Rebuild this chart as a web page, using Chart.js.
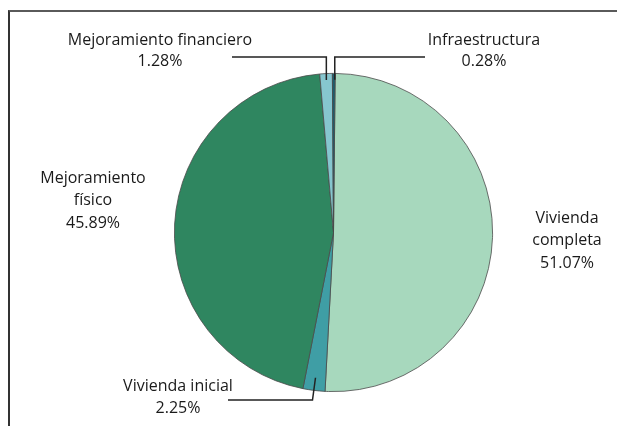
<!DOCTYPE html>
<html>
  <head>
    <meta charset="utf-8" />
    <title>Distribución por programa</title>
    <script src="https://cdn.jsdelivr.net/npm/chart.js@4.4.1/dist/chart.umd.min.js"></script>
    <style>
      body { margin: 0; background: #fff; }
      #wrap { position: relative; width: 617px; height: 426px; overflow: hidden; }
      #frame {
        position: absolute; left: 8px; top: 10px; width: 640px; height: 440px;
        border-top: 2px solid #5a5a5a; border-left: 2px solid #333;
      }
      canvas { position: absolute; left: 0; top: 0; }
    </style>
  </head>
  <body>
    <div id="wrap">
      <div id="frame"></div>
      <canvas id="myChart" width="617" height="426"></canvas>
    </div>
    <script>
      const labels = [
        "Vivienda completa",
        "Vivienda inicial",
        "Mejoramiento físico",
        "Mejoramiento financiero",
        "Infraestructura",
      ];
      const values = [51.07, 2.25, 45.89, 1.28, 0.28];
      const colors = ["#a7d8bd", "#3f9ea5", "#2f8660", "#86c6cf", "#1b5e6e"];

      // label text lines per slice, the last line gets the percentage
      const labelLines = [
        ["Vivienda", "completa"],
        ["Vivienda inicial"],
        ["Mejoramiento", "físico"],
        ["Mejoramiento financiero"],
        ["Infraestructura"],
      ];

      const fmt = (v) => v.toFixed(2) + "%";

      const labelPlugin = {
        id: "pieLabels",
        afterDraw(chart) {
          const ctx = chart.ctx;
          const arcs = chart.getDatasetMeta(0).data;
          ctx.save();
          ctx.font = '500 16px "Open Sans"';
          ctx.fillStyle = "#1a1a1a";
          ctx.textAlign = "center";
          ctx.textBaseline = "middle";

          const drawBlock = (i, cx, top, gap) => {
            const lines = labelLines[i].concat([fmt(values[i])]);
            lines.forEach((t, k) => ctx.fillText(t, cx, top + k * gap));
          };
          drawBlock(0, 567, 218, 22.5);
          drawBlock(1, 178, 386, 22.5);
          drawBlock(2, 93, 178, 22.5);
          drawBlock(3, 160, 40, 21.5);
          drawBlock(4, 484, 40, 21.5);

          // leader lines
          ctx.strokeStyle = "#222";
          ctx.lineWidth = 1.5;
          const at = (arc, f) => {
            const mid = (arc.startAngle + arc.endAngle) / 2;
            const r = arc.outerRadius * f;
            return { x: arc.x + Math.cos(mid) * r, y: arc.y + Math.sin(mid) * r };
          };
          const lineY = 57;
          const pFin = at(arcs[3], 0.96);
          ctx.beginPath();
          ctx.moveTo(pFin.x, pFin.y);
          ctx.lineTo(pFin.x, lineY);
          ctx.lineTo(232, lineY);
          ctx.stroke();
          const pInf = at(arcs[4], 0.96);
          ctx.beginPath();
          ctx.moveTo(pInf.x + 1, pInf.y);
          ctx.lineTo(pInf.x + 1, lineY);
          ctx.lineTo(425, lineY);
          ctx.stroke();
          const pIni = at(arcs[1], 0.92);
          ctx.beginPath();
          ctx.moveTo(pIni.x, pIni.y);
          ctx.lineTo(pIni.x - 3, 400);
          ctx.lineTo(228, 400);
          ctx.stroke();
          ctx.restore();
        },
      };

      const ctx = document.getElementById("myChart");
      const myChart = new Chart(ctx, {
        type: "pie",
        data: {
          labels: labels,
          datasets: [
            {
              data: values,
              backgroundColor: colors,
              borderColor: "#4a4a4a",
              borderWidth: 0.8,
            },
          ],
        },
        options: {
          responsive: false,
          animation: false,
          rotation: 0.6,
          layout: { padding: { top: 73, bottom: 34, left: 60, right: 10 } },
          plugins: {
            legend: { display: false },
            tooltip: { enabled: false },
          },
        },
        plugins: [labelPlugin],
      });
    </script>
  </body>
</html>
